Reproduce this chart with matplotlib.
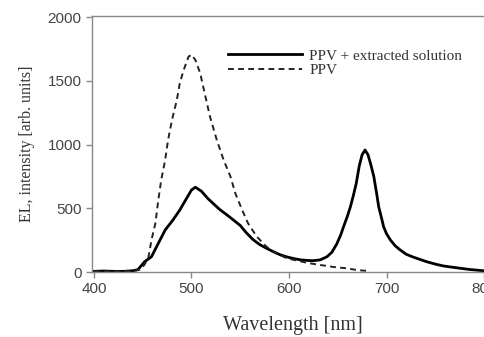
import matplotlib
matplotlib.use("Agg")
import matplotlib.pyplot as plt

# PPV + extracted solution (solid)
wl_solid = [400, 410, 420, 430, 440, 445, 452, 459, 466, 473, 481, 488, 495, 500, 504,
            510, 517, 524, 529, 536, 543, 550, 556, 563, 570, 577, 584, 591, 598, 605,
            612, 620, 625, 632, 639, 644, 649, 653, 656, 660, 663, 666, 669, 672, 675,
            678, 681, 684, 687, 690, 692, 695, 697, 700, 704, 709, 714, 720, 727, 735,
            741, 750, 758, 765, 775, 785, 792, 799]
int_solid = [5, 8, 5, 5, 10, 18, 81, 120, 225, 329, 408, 486, 578, 643, 665,
             635, 575, 525, 490, 450, 408, 365, 310, 255, 215, 186, 159, 135, 118, 105,
             95, 90, 89, 95, 120, 155, 220, 290, 356, 440, 512, 600, 696, 830, 920,
             957, 920, 840, 748, 610, 512, 420, 356, 300, 251, 205, 173, 140, 118, 97,
             81, 62, 48, 40, 30, 20, 15, 10]

# PPV (dashed)
wl_dash = [400, 420, 440, 448, 452, 456, 459, 463, 466, 469, 473, 476, 480, 485, 488,
           492, 497, 500, 504, 509, 513, 519, 526, 533, 540, 545, 552, 558, 567, 577,
           587, 598, 611, 620, 632, 645, 659, 670, 681]
int_dash = [5, 5, 8, 20, 60, 120, 251, 382, 565, 722, 878, 1035, 1192, 1349, 1480,
            1584, 1689, 1705, 1663, 1558, 1420, 1218, 1035, 878, 748, 617, 486, 382, 277, 198,
            147, 107, 85, 70, 55, 40, 29, 15, 8]

x_ticks = [400, 500, 600, 700, 800]
y_ticks = [0, 500, 1000, 1500, 2000]

fig = plt.figure(figsize=(4.85, 3.37), dpi=100)
ax = fig.add_axes([92/485, 1-272/337, 1-92/485, (272-16)/337])

ax.plot(wl_solid, int_solid, color="black", lw=2.0, label="PPV + extracted solution")
ax.plot(wl_dash, int_dash, color="#222222", lw=1.4, dashes=(3.0, 2.2), label="PPV")

ax.set_xlim(398, 801)
ax.set_ylim(0, 2008)
ax.set_xticks(x_ticks)
ax.set_yticks(y_ticks)

for s in ax.spines.values():
    s.set_color("#888888")
    s.set_linewidth(1.0)

ax.tick_params(axis="both", direction="out", length=4, width=1, color="#888888",
               labelsize=11, labelcolor="#444444", pad=3.5)
for lab in ax.get_xticklabels() + ax.get_yticklabels():
    lab.set_fontfamily("Liberation Sans")

ax.set_xlabel("Wavelength [nm]", fontfamily="Liberation Serif", fontsize=14.5,
              color="#333333")
ax.xaxis.set_label_coords(0.511, -0.17)
ax.set_ylabel("EL, intensity [arb. units]", fontfamily="Liberation Serif", fontsize=11.5,
              color="#333333", labelpad=9)

leg = ax.legend(loc="upper left", bbox_to_anchor=(0.31, 0.925), frameon=False,
                handlelength=4.85, handletextpad=0.5, labelspacing=0.05,
                prop={"family": "Liberation Serif", "size": 11})
for t in leg.get_texts():
    t.set_color("#3a3030")

fig.savefig("out.png", dpi=100)
